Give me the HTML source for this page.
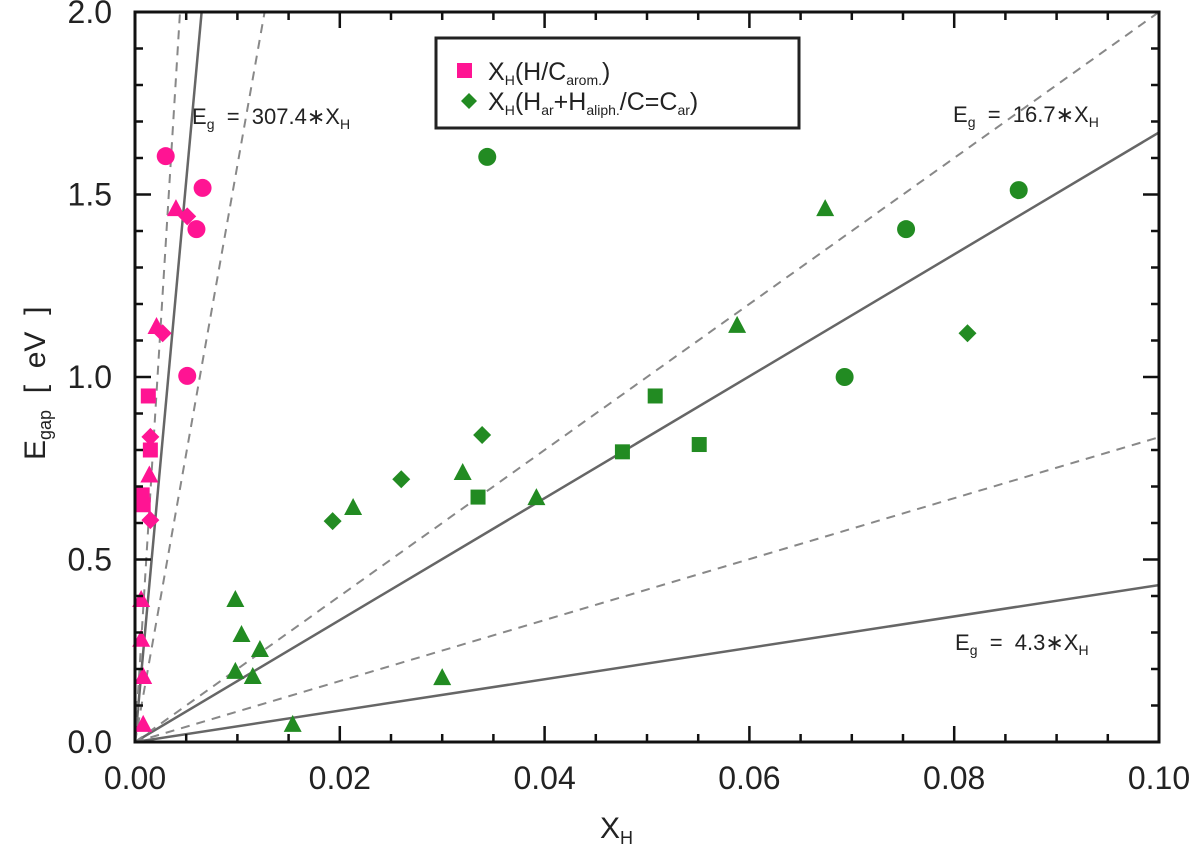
<!DOCTYPE html>
<html><head><meta charset="utf-8">
<style>
body{margin:0;background:#fff;}
svg{display:block;font-family:"Liberation Sans",sans-serif;}
</style></head>
<body>
<svg id="chart" width="1200" height="854" viewBox="0 0 1200 854" xmlns="http://www.w3.org/2000/svg"></svg>
<script>
const xTicks=[0,0.02,0.04,0.06,0.08,0.10];
const xTickLabels=["0.00","0.02","0.04","0.06","0.08","0.10"];
const yTicks=[0,0.5,1.0,1.5,2.0];
const yTickLabels=["0.0","0.5","1.0","1.5","2.0"];
const solidSlopes=[307.4,16.7,4.3];
const dashedSlopes=[455,158,20,8.35];
// pink series (aromatic H/C)
const pinkShapes=["circle","circle","circle","triangle","diamond","triangle","diamond","circle","square","diamond","square","triangle","square","square","diamond","triangle","triangle","triangle","triangle"];
const pinkX=[0.0030,0.0066,0.0060,0.0040,0.0051,0.0021,0.0027,0.0051,0.0013,0.0015,0.0015,0.0014,0.0007,0.0008,0.0015,0.0006,0.0006,0.0008,0.0008];
const pinkY=[1.605,1.518,1.405,1.46,1.44,1.137,1.12,1.003,0.948,0.836,0.80,0.73,0.677,0.65,0.608,0.389,0.28,0.178,0.047];
// green series
const greenShapes=["circle","circle","circle","circle","triangle","triangle","diamond","square","square","square","diamond","diamond","triangle","square","triangle","triangle","diamond","triangle","triangle","triangle","triangle","triangle","triangle","triangle"];
const greenX=[0.0344,0.0863,0.0753,0.0693,0.0674,0.0588,0.0813,0.0508,0.0476,0.0551,0.0339,0.0260,0.0320,0.0335,0.0392,0.0213,0.0193,0.0098,0.0104,0.0122,0.0098,0.0115,0.0154,0.0300];
const greenY=[1.603,1.512,1.405,1.0,1.46,1.14,1.12,0.948,0.795,0.815,0.841,0.72,0.737,0.671,0.668,0.641,0.605,0.389,0.293,0.252,0.192,0.178,0.047,0.175];

const X0=135,X1=1159,Y0=742,Y1=12;
const sx=v=>X0+(v-0)/0.1*(X1-X0);
const sy=v=>Y0-(v/2)*(Y0-Y1);
const svg=document.getElementById('chart');
const NS="http://www.w3.org/2000/svg";
function mk(tag,attrs,parent){const e=document.createElementNS(NS,tag);for(const k in attrs)e.setAttribute(k,attrs[k]);(parent||svg).appendChild(e);return e;}

const defs=mk('defs',{});
const cp=mk('clipPath',{id:'pc'},defs);
mk('rect',{x:X0,y:Y1,width:X1-X0,height:Y0-Y1},cp);
const lines=mk('g',{'clip-path':'url(#pc)'});


solidSlopes.forEach(s=>{
  const xe=Math.min(0.1,2/s);
  const l=mk('line',{x1:sx(0),y1:sy(0),x2:sx(xe),y2:sy(s*xe),stroke:'#666','stroke-width':2.5},lines);
  
  
});
dashedSlopes.forEach(s=>{
  const xe=Math.min(0.1,2/s);
  const l=mk('line',{x1:sx(0),y1:sy(0),x2:sx(xe),y2:sy(s*xe),stroke:'#888','stroke-width':2,'stroke-dasharray':'9 7'},lines);
  
  
});

function marker(shape,x,y,color,g){
  const cx=sx(x),cy=sy(y);let e;
  if(shape==='circle')e=mk('circle',{cx,cy,r:9,fill:color},g);
  else if(shape==='square')e=mk('rect',{x:cx-7.5,y:cy-7.5,width:15,height:15,fill:color},g);
  else if(shape==='diamond')e=mk('polygon',{points:`${cx},${cy-9} ${cx+9},${cy} ${cx},${cy+9} ${cx-9},${cy}`,fill:color},g);
  else e=mk('polygon',{points:`${cx},${cy-10} ${cx+9},${cy+7} ${cx-9},${cy+7}`,fill:color},g);
  return e;
}
const gp=mk('g',{});


pinkX.forEach((x,i)=>{const m=marker(pinkShapes[i],x,pinkY[i],'#ff1493',gp);
  
  });
const gg=mk('g',{});


greenX.forEach((x,i)=>{const m=marker(greenShapes[i],x,greenY[i],'#228b22',gg);
  
  });

const fr=mk('rect',{x:X0,y:Y1,width:X1-X0,height:Y0-Y1,fill:'none',stroke:'#111','stroke-width':3});


const tg=mk('g',{stroke:'#111','stroke-width':2.5});


for(let i=0;i<=20;i++){const v=i*0.005,L=(i%4===0)?16:8;const p=sx(v);
  mk('line',{x1:p,y1:Y0,x2:p,y2:Y0-L},tg);mk('line',{x1:p,y1:Y1,x2:p,y2:Y1+L},tg);}
for(let i=0;i<=20;i++){const v=i*0.1,L=(i%5===0)?16:8;const p=sy(v);
  mk('line',{x1:X0,y1:p,x2:X0+L,y2:p},tg);mk('line',{x1:X1,y1:p,x2:X1-L,y2:p},tg);}
xTicks.forEach((v,i)=>{const t=mk('text',{x:sx(v),y:789,'font-size':32,'text-anchor':'middle',fill:'#222'});t.textContent=xTickLabels[i];
  
  });
yTicks.forEach((v,i)=>{const t=mk('text',{x:112,y:sy(v)+11,'font-size':32,'text-anchor':'end',fill:'#222'});t.textContent=yTickLabels[i];
  
  });
</script>
<svg style="position:absolute;left:0;top:0" width="1200" height="854">
<text x="600" y="838" font-size="30" fill="#222" font-family="Liberation Sans">X<tspan font-size="18" dy="6">H</tspan></text>
<g transform="translate(45,460) rotate(-90)">
<text x="0" y="0" font-size="30" fill="#222" font-family="Liberation Sans">E<tspan font-size="18" dy="6">gap</tspan><tspan dy="-6" xml:space="preserve">  [  eV  ]</tspan></text>
</g>
<text x="192" y="124" font-size="22" fill="#222" font-family="Liberation Sans" xml:space="preserve">E<tspan font-size="14" dy="5">g</tspan><tspan dy="-5">  =  307.4∗X</tspan><tspan font-size="14" dy="5">H</tspan></text>
<text x="953" y="122" font-size="22" fill="#222" font-family="Liberation Sans" xml:space="preserve">E<tspan font-size="14" dy="5">g</tspan><tspan dy="-5">  =  16.7∗X</tspan><tspan font-size="14" dy="5">H</tspan></text>
<text x="955" y="650" font-size="22" fill="#222" font-family="Liberation Sans" xml:space="preserve">E<tspan font-size="14" dy="5">g</tspan><tspan dy="-5">  =  4.3∗X</tspan><tspan font-size="14" dy="5">H</tspan></text>
<g>
<rect x="436" y="38" width="363" height="90" fill="#fff" stroke="#222" stroke-width="3"/>
<rect x="457" y="63" width="15" height="15" fill="#ff1493"/>
<polygon points="469,93 477,101 469,109 461,101" fill="#228b22"/>
<text x="488" y="80" font-size="25" fill="#222" font-family="Liberation Sans">X<tspan font-size="14" dy="5">H</tspan><tspan dy="-5">(H/C</tspan><tspan font-size="14" dy="5">arom.</tspan><tspan dy="-5">)</tspan></text>
<text x="488" y="110" font-size="25" fill="#222" font-family="Liberation Sans">X<tspan font-size="14" dy="5">H</tspan><tspan dy="-5">(H</tspan><tspan font-size="14" dy="5">ar</tspan><tspan dy="-5">+H</tspan><tspan font-size="14" dy="5">aliph.</tspan><tspan dy="-5">/C=C</tspan><tspan font-size="14" dy="5">ar</tspan><tspan dy="-5">)</tspan></text>
</g>
</svg>
</body></html>
